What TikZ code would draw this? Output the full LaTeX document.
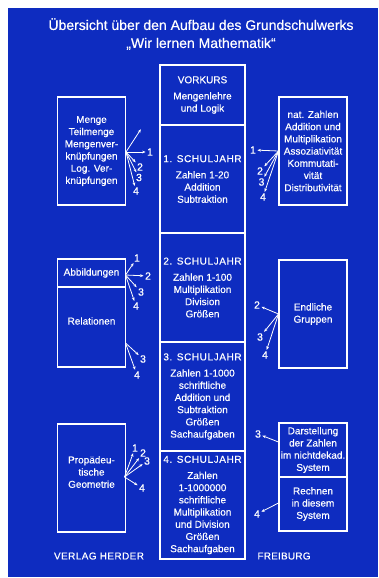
\documentclass[tikz,border=0pt]{standalone}
\usepackage{fontspec}
\setmainfont{Liberation Sans}[FakeBold=0.4]
\usetikzlibrary{arrows.meta}
\definecolor{plate}{RGB}{14,44,192}
\newcommand\stagehead[1]{{\addfontfeature{LetterSpace=6}#1}}
\begin{document}
\begin{tikzpicture}[x=1pt,y=-1pt,
  every node/.style={text=white, font=\fontsize{10}{12.2}\selectfont, inner sep=0pt},
  box/.style={draw=white, line width=1.1pt, align=center},
  stage/.style={box, minimum width=85pt},
  side/.style={box, minimum width=68pt},
  num/.style={inner sep=1pt, font=\fontsize{10.5}{12}\selectfont},
  fan/.style={draw=white, line width=0.8pt, -{Stealth[length=3.5pt,width=2.8pt]}, shorten >=0.3pt},
]
\useasboundingbox (0,0) rectangle (379,578);
\fill[white] (0,0) rectangle (379,578);
\fill[plate] (8,8) rectangle (378,577);

% title
\node[align=center, font=\fontsize{14}{18}\selectfont] (title) at (201,34)
  {Übersicht über den Aufbau des Grundschulwerks\\„Wir lernen Mathematik“};

% central column: the school years
\node[stage, minimum height=60pt] (vk) at (202.5,95)
  {VORKURS\\[4pt]Mengenlehre\\und Logik};
\node[stage, minimum height=108pt] (sj1) at (202.5,179)
  {\stagehead{1. SCHULJAHR}\\[4pt]Zahlen 1-20\\Addition\\Subtraktion};
\node[stage, minimum height=109pt] (sj2) at (202.5,287.5)
  {\stagehead{2. SCHULJAHR}\\[4pt]Zahlen 1-100\\Multiplikation\\Division\\Größen};
\node[stage, minimum height=109pt] (sj3) at (202.5,396.5)
  {\stagehead{3. SCHULJAHR}\\[4pt]Zahlen 1-1000\\schriftliche\\Addition und\\Subtraktion\\Größen\\Sachaufgaben};
\node[stage, minimum height=108pt] (sj4) at (202.5,505)
  {\stagehead{4. SCHULJAHR}\\[4pt]Zahlen\\1-1000000\\schriftliche\\Multiplikation\\und Division\\Größen\\Sachaufgaben};

% left column
\node[side, minimum height=108pt] (menge) at (91.5,151)
  {Menge\\Teilmenge\\Mengenver-\\knüpfungen\\Log. Ver-\\knüpfungen};
\node[side, minimum height=28pt] (abb) at (91.5,273) {Abbildungen};
\node[side, minimum height=80pt] (rel) at (91.5,327) {};
\node (reltext) at (91.5,321) {Relationen};
\node[side, minimum height=108pt] (geo) at (91.5,478) {};
\node[align=center] (geotext) at (91.5,472) {Propädeu-\\tische\\Geometrie};

% right column
\node[side, minimum height=108pt] (nat) at (313,151)
  {nat. Zahlen\\Addition und\\Multiplikation\\Assoziativität\\Kommutati-\\vität\\Distributivität};
\node[side, minimum height=108pt] (grp) at (313,314) {Endliche\\Gruppen};
\node[side, minimum height=54pt] (dar) at (313,450)
  {Darstellung\\der Zahlen\\im nichtdekad.\\System};
\node[side, minimum height=54pt] (rech) at (313,504) {Rechnen\\in diesem\\System};

% fan from "Menge ..."
\coordinate (fa) at (126,152);
\coordinate (fa0) at (141,129);
\node[num] (a1) at (150,152) {1};
\node[num] (a2) at (140,167) {2};
\node[num] (a3) at (139,177.5) {3};
\node[num] (a4) at (136,191) {4};
\draw[fan] (fa) -- (fa0);
\foreach \k in {1,...,4} \draw[fan] (fa) -- (a\k);

% fan from "nat. Zahlen ..."
\coordinate (fd) at (278.5,151);
\node[num] (d1) at (253,150) {1};
\node[num] (d2) at (260,171) {2};
\node[num] (d3) at (261.5,182) {3};
\node[num] (d4) at (263,197) {4};
\foreach \k in {1,...,4} \draw[fan] (fd) -- (d\k);

% fan from "Abbildungen"
\coordinate (fb) at (125.5,275);
\node[num] (b1) at (137,258) {1};
\node[num] (b2) at (148,276) {2};
\node[num] (b3) at (141,292) {3};
\node[num] (b4) at (136,306) {4};
\foreach \k in {1,...,4} \draw[fan] (fb) -- (b\k);

% fan from "Relationen"
\coordinate (fr) at (125.5,343);
\node[num] (r3) at (143,359) {3};
\node[num] (r4) at (137,375) {4};
\draw[fan] (fr) -- (r3);
\draw[fan] (fr) -- (r4);

% fan from "Endliche Gruppen"
\coordinate (fe) at (278.5,314);
\node[num] (e2) at (257,305) {2};
\node[num] (e3) at (260,337) {3};
\node[num] (e4) at (265,355) {4};
\foreach \k in {2,3,4} \draw[fan] (fe) -- (e\k);

% fan from "Propädeutische Geometrie"
\coordinate (fc) at (124.5,477);
\node[num] (c1) at (135,448) {1};
\node[num] (c2) at (143,453) {2};
\node[num] (c3) at (147,461) {3};
\node[num] (c4) at (142,488) {4};
\foreach \k in {1,...,4} \draw[fan] (fc) -- (c\k);

% arrows from the number systems
\coordinate (ff) at (278.5,442);
\node[num] (f3) at (258,434) {3};
\draw[fan] (ff) -- (f3);
\coordinate (fg) at (278.5,503);
\node[num] (g4) at (257,514) {4};
\draw[fan] (fg) -- (g4);

% publisher line
\node (verlag) at (99,556) {\addfontfeature{LetterSpace=4}VERLAG HERDER};
\node (ort) at (284,556) {\addfontfeature{LetterSpace=2}FREIBURG};
\end{tikzpicture}
\end{document}
